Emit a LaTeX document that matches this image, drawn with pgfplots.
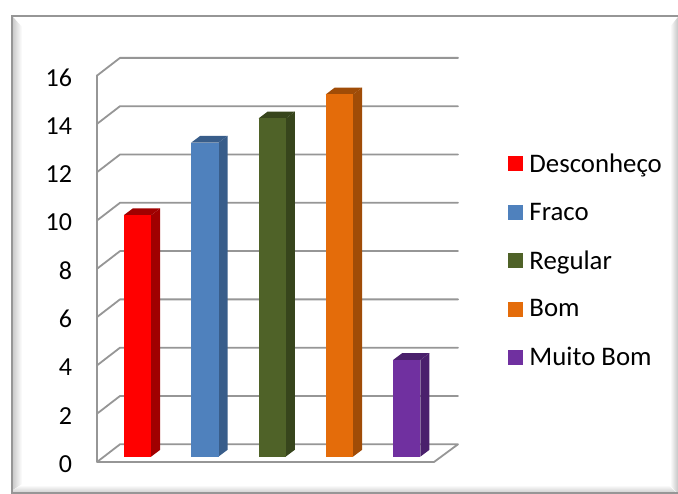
\documentclass[border=0pt]{standalone}
\usepackage{fontspec}
\setmainfont{Carlito}
\usepackage{pgfplots}
\pgfplotsset{compat=1.18}
\definecolor{gridgray}{HTML}{969696}
\definecolor{cblue}{HTML}{4F81BD}\definecolor{sblue}{HTML}{385D8A}
\definecolor{cgreen}{HTML}{4F6228}\definecolor{sgreen}{HTML}{37451C}
\definecolor{corange}{HTML}{E46C0A}\definecolor{sorange}{HTML}{A04C07}
\definecolor{cpurple}{HTML}{7030A0}\definecolor{spurple}{HTML}{4A206C}
\definecolor{sred}{HTML}{A00000}
\pgfplotsset{
 gl/.style={draw=gridgray,line width=1.8pt,line cap=round,line join=round,forget plot},
 sq/.style={legend image code/.code={\fill[##1,draw=none] (0pt,-7.5pt) rectangle (15pt,7.5pt);}},
 front/.style={ybar,bar width=27.3pt,bar shift=0pt,draw=none,fill=#1,sq},
 poly/.style={fill=#1,draw=none,forget plot},
}
\begin{document}
\begin{tikzpicture}
\begin{scope}[x=1pt,y=-1pt,yshift=494pt]
\fill[white] (0,0) rectangle (678,494);
\shade[left color=gray!40,right color=white] (13,17)--(22,27)--(22,484)--(13,490)--cycle;
\shade[bottom color=gray!45,top color=white] (13,494)--(13,490)--(22,485)--(668,485)--(678,494)--cycle;
\shade[right color=gray!45,left color=white] (678,17)--(670,27)--(670,485)--(678,494)--cycle;
\draw[gridgray,line width=2pt] (12,494)--(12,16.5)--(678,16.5);
\draw[gridgray,line width=2pt] (12,493.2)--(678,493.2);
\end{scope}
\begin{axis}[
 at={(0pt,0pt)},anchor=south west,
 scale only axis,width=678pt,height=494pt,
 xmin=0,xmax=678,ymin=-1.549,ymax=18.907,
 axis line style={draw=none},
 xtick=\empty,
 ytick={0,2,...,16},
 tick style={draw=none},
 yticklabel style={font=\fontsize{26}{30}\selectfont,/pgf/number format/assume math mode=true,xshift=75.5pt,yshift=-7.4pt,anchor=east},
 legend style={at={(axis cs:508,12.62)},anchor=north west,draw=none,fill=none,
   font=\fontsize{26.8}{30}\selectfont,row sep=25pt,inner sep=0pt,outer sep=0pt,
   /tikz/every even column/.append style={column sep=0pt},
   cells={anchor=west}},
 clip=false,
]
% grid: back wall lines, left wall lines
\addplot[gl] coordinates {(97,-0.224)(120,0.509)(458,0.509)(434,-0.224)(97,-0.224)(97,15.776)};
\addplot[gl] coordinates {(97,1.776)(120,2.509)(458,2.509)};
\addplot[gl] coordinates {(97,3.776)(120,4.509)(458,4.509)};
\addplot[gl] coordinates {(97,5.776)(120,6.509)(458,6.509)};
\addplot[gl] coordinates {(97,7.776)(120,8.509)(458,8.509)};
\addplot[gl] coordinates {(97,9.776)(120,10.509)(458,10.509)};
\addplot[gl] coordinates {(97,11.776)(120,12.509)(458,12.509)};
\addplot[gl] coordinates {(97,13.776)(120,14.509)(458,14.509)};
\addplot[gl] coordinates {(97,15.776)(120,16.509)(458,16.509)};
% side and top faces
\addplot[poly=sred] coordinates {(151.2,0)(160.2,0.28)(160.2,10.28)(151.2,10)} --cycle;
\addplot[poly=sred] coordinates {(123.9,10)(132.9,10.28)(160.2,10.28)(151.2,10)} --cycle;
\addplot[poly=sblue] coordinates {(218.5,0)(227.5,0.28)(227.5,13.28)(218.5,13)} --cycle;
\addplot[poly=sblue] coordinates {(191.2,13)(200.2,13.28)(227.5,13.28)(218.5,13)} --cycle;
\addplot[poly=sgreen] coordinates {(285.8,0)(294.8,0.28)(294.8,14.28)(285.8,14)} --cycle;
\addplot[poly=sgreen] coordinates {(258.5,14)(267.5,14.28)(294.8,14.28)(285.8,14)} --cycle;
\addplot[poly=sorange] coordinates {(353.1,0)(362.1,0.28)(362.1,15.28)(353.1,15)} --cycle;
\addplot[poly=sorange] coordinates {(325.8,15)(334.8,15.28)(362.1,15.28)(353.1,15)} --cycle;
\addplot[poly=spurple] coordinates {(420.4,0)(429.4,0.28)(429.4,4.28)(420.4,4)} --cycle;
\addplot[poly=spurple] coordinates {(393.1,4)(402.1,4.28)(429.4,4.28)(420.4,4)} --cycle;
% front faces
\addplot[front=red] coordinates {(137.55,10)};
\addplot[front=cblue] coordinates {(204.85,13)};
\addplot[front=cgreen] coordinates {(272.15,14)};
\addplot[front=corange] coordinates {(339.45,15)};
\addplot[front=cpurple] coordinates {(406.75,4)};
\legend{\,Desconheço,\,Fraco,\,Regular,\,Bom,\,Muito Bom}
\end{axis}
\pgfresetboundingbox
\path[use as bounding box] (0,0) rectangle (678pt,494pt);
\end{tikzpicture}
\end{document}
